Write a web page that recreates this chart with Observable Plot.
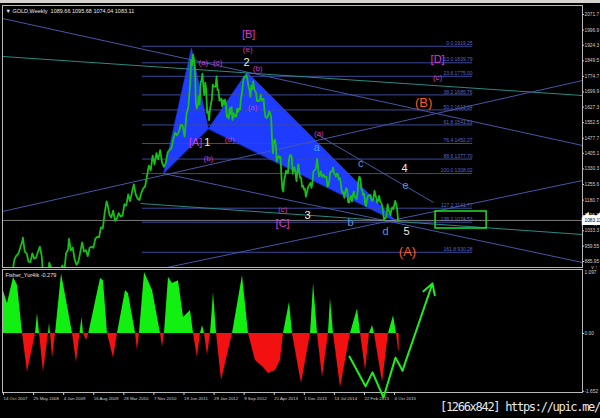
<!DOCTYPE html>
<html><head><meta charset="utf-8">
<script src="https://cdn.jsdelivr.net/npm/d3@7"></script>
<script src="https://cdn.jsdelivr.net/npm/@observablehq/plot@0.6"></script>
<style>
html,body{margin:0;padding:0;background:#000;width:600px;height:418px;overflow:hidden;font-family:"Liberation Sans",Arial,sans-serif;}
#topbar{position:absolute;left:0;top:0;width:600px;height:3px;background:#d6d3ce;}
#main{position:absolute;left:0;top:3px;}
#sub{position:absolute;left:0;top:262px;}
#wm{position:absolute;left:440px;top:400px;color:#e8e8e8;font:12px "DejaVu Sans Mono",monospace;letter-spacing:-1.3px;white-space:nowrap;}
</style></head><body>
<div id="topbar"></div><div id="main"></div><div id="sub"></div><div id="wm">[1266x842] https://upic.me/</div>
<script>
// ---------- DATA ----------
const chartTitle = "\u25BC GOLD,Weekly  1089.66 1095.68 1074.04 1083.11";
const fisherTitle = "Fisher_Yur4ik -0.279";
const bidPrice = 1083.11;

const priceDate = ["2007-10-19","2007-11-02","2007-11-16","2007-11-30","2007-12-14","2007-12-28","2008-01-11","2008-01-25","2008-02-08","2008-02-22","2008-03-07","2008-03-14","2008-03-28","2008-04-11","2008-04-25","2008-05-09","2008-05-23","2008-06-06","2008-06-20","2008-07-04","2008-07-18","2008-08-01","2008-08-15","2008-08-29","2008-09-12","2008-09-26","2008-10-10","2008-10-24","2008-11-07","2008-11-21","2008-12-05","2008-12-19","2009-01-02","2009-01-16","2009-01-30","2009-02-13","2009-02-20","2009-03-06","2009-03-20","2009-04-03","2009-04-17","2009-05-01","2009-05-15","2009-05-29","2009-06-12","2009-06-26","2009-07-10","2009-07-24","2009-08-07","2009-08-21","2009-09-04","2009-09-18","2009-10-02","2009-10-16","2009-10-30","2009-11-13","2009-11-27","2009-12-04","2009-12-18","2010-01-01","2010-01-15","2010-01-29","2010-02-12","2010-02-26","2010-03-12","2010-03-26","2010-04-09","2010-04-23","2010-05-07","2010-05-21","2010-06-04","2010-06-18","2010-07-02","2010-07-16","2010-07-30","2010-08-13","2010-08-27","2010-09-10","2010-09-24","2010-10-08","2010-10-22","2010-11-05","2010-11-19","2010-12-03","2010-12-17","2010-12-31","2011-01-14","2011-01-28","2011-02-11","2011-02-25","2011-03-11","2011-03-25","2011-04-08","2011-04-22","2011-05-06","2011-05-20","2011-06-03","2011-06-17","2011-07-01","2011-07-15","2011-07-29","2011-08-12","2011-08-19","2011-08-26",
"2011-09-02","2011-09-09","2011-09-16","2011-09-23","2011-09-30","2011-10-07","2011-10-14","2011-10-21","2011-10-28","2011-11-04","2011-11-11","2011-11-18","2011-11-25","2011-12-02","2011-12-09","2011-12-16","2011-12-23","2011-12-30",
"2012-01-06","2012-01-13","2012-01-20","2012-01-27","2012-02-03","2012-02-10","2012-02-17","2012-02-24","2012-03-02","2012-03-09","2012-03-16","2012-03-23","2012-03-30","2012-04-06","2012-04-13","2012-04-20","2012-04-27","2012-05-04","2012-05-11","2012-05-18","2012-05-25","2012-06-01","2012-06-08","2012-06-15","2012-06-22","2012-06-29","2012-07-06","2012-07-13","2012-07-20","2012-07-27","2012-08-03","2012-08-10","2012-08-17","2012-08-24","2012-08-31","2012-09-07","2012-09-14","2012-09-21","2012-09-28","2012-10-05","2012-10-12","2012-10-19","2012-10-26","2012-11-02","2012-11-09","2012-11-16","2012-11-23","2012-11-30","2012-12-07","2012-12-14","2012-12-21","2012-12-28",
"2013-01-04","2013-01-11","2013-01-18","2013-01-25","2013-02-01","2013-02-08","2013-02-15","2013-02-22","2013-03-01","2013-03-08","2013-03-15","2013-03-22","2013-03-29","2013-04-05","2013-04-12","2013-04-19","2013-04-26","2013-05-03","2013-05-10","2013-05-17","2013-05-24","2013-05-31","2013-06-07","2013-06-14","2013-06-21","2013-06-28","2013-07-05","2013-07-12","2013-07-19","2013-07-26","2013-08-02","2013-08-09","2013-08-16","2013-08-23","2013-08-30","2013-09-06","2013-09-13","2013-09-20","2013-09-27","2013-10-04","2013-10-11","2013-10-18","2013-10-25","2013-11-01","2013-11-08","2013-11-15","2013-11-22","2013-11-29","2013-12-06","2013-12-13","2013-12-20","2013-12-27",
"2014-01-03","2014-01-10","2014-01-17","2014-01-24","2014-01-31","2014-02-07","2014-02-14","2014-02-21","2014-02-28","2014-03-07","2014-03-14","2014-03-21","2014-03-28","2014-04-04","2014-04-11","2014-04-18","2014-04-25","2014-05-02","2014-05-09","2014-05-16","2014-05-23","2014-05-30","2014-06-06","2014-06-13","2014-06-20","2014-06-27","2014-07-04","2014-07-11","2014-07-18","2014-07-25","2014-08-01","2014-08-08","2014-08-15","2014-08-22","2014-08-29","2014-09-05","2014-09-12","2014-09-19","2014-09-26","2014-10-03","2014-10-10","2014-10-17","2014-10-24","2014-10-31","2014-11-07","2014-11-14","2014-11-21","2014-11-28","2014-12-05","2014-12-12","2014-12-19","2014-12-26",
"2015-01-02","2015-01-09","2015-01-16","2015-01-23","2015-01-30","2015-02-06","2015-02-13","2015-02-20","2015-02-27","2015-03-06","2015-03-13","2015-03-20","2015-03-27","2015-04-03","2015-04-10","2015-04-17","2015-04-24","2015-05-01","2015-05-08","2015-05-15","2015-05-22","2015-05-29","2015-06-05","2015-06-12","2015-06-19","2015-06-26","2015-07-03","2015-07-10","2015-07-17","2015-07-24","2015-07-31","2015-08-07","2015-08-14","2015-08-21","2015-08-28","2015-09-04","2015-09-11","2015-09-18","2015-09-25","2015-10-02","2015-10-09","2015-10-16","2015-10-23","2015-10-30","2015-11-06","2015-11-13"];
const priceClose = [765,807,785,783,800,838,896,914,922,950,978,1000,932,925,885,883,925,900,904,933,957,912,785,833,763,880,858,725,735,795,752,840,867,840,927,942,995,940,953,897,870,885,930,978,934,940,912,952,957,952,995,1004,1003,1050,1045,1119,1175,1162,1111,1097,1130,1081,1093,1118,1102,1106,1161,1155,1208,1176,1218,1256,1208,1188,1181,1216,1237,1246,1297,1346,1325,1394,1352,1406,1376,1421,1361,1340,1360,1410,1421,1429,1474,1504,1491,1509,1542,1538,1486,1593,1628,1744,1852,1828,
1880,1855,1810,1650,1620,1635,1680,1640,1745,1755,1788,1725,1685,1745,1710,1600,1605,1565,
1615,1640,1665,1735,1725,1725,1725,1775,1710,1710,1658,1662,1668,1630,1660,1640,1663,1643,1580,1590,1572,1622,1595,1627,1566,1598,1580,1590,1582,1620,1605,1620,1616,1672,1692,1737,1770,1773,1772,1780,1757,1725,1711,1676,1730,1714,1751,1712,1703,1697,1657,1657,
1656,1662,1687,1658,1667,1667,1610,1580,1576,1577,1592,1607,1597,1580,1476,1405,1463,1471,1448,1365,1386,1392,1383,1388,1296,1234,1222,1278,1296,1322,1310,1312,1372,1396,1396,1387,1308,1333,1338,1310,1272,1315,1352,1315,1287,1287,1244,1250,1231,1235,1197,1213,
1237,1248,1254,1264,1240,1262,1318,1324,1326,1338,1379,1336,1294,1303,1318,1293,1300,1302,1290,1293,1292,1245,1252,1274,1316,1316,1320,1337,1310,1303,1294,1309,1305,1280,1287,1268,1230,1216,1218,1192,1222,1238,1231,1171,1169,1190,1201,1175,1205,1222,1195,1195,
1186,1216,1277,1293,1283,1234,1227,1203,1212,1164,1153,1184,1199,1201,1206,1203,1178,1178,1188,1225,1205,1190,1168,1179,1201,1173,1168,1157,1132,1085,1095,1094,1113,1160,1134,1121,1108,1138,1145,1137,1156,1177,1163,1142,1088,1083];

// Fibonacci retracement
const fibLevel = [0.0,13.0,23.6,38.2,50.0,61.8,76.4,88.6,100.0,127.2,138.2,161.8];
const fibPrice = [1919.25,1839.79,1775.00,1685.76,1613.64,1541.51,1452.27,1377.70,1308.02,1141.77,1074.53,930.28];
const fibFrom = "2010-08-21", fibTo = "2017-05-15";

// Harmonic triangles
const triName  = ["XAB","XAB","XAB","BCD","BCD","BCD"];
const triDate  = ["2011-01-25","2011-08-21","2011-12-25","2011-12-25","2012-10-07","2015-11-01"];
const triPrice = [1308,1912,1523,1523,1796,1074.5];

// Trend lines
const trendKind  = ["blue","teal","blue","blue","blue","teal","blue"];
const trendDate1 = ["2007-10-14","2007-10-14","2007-10-14","2007-10-14","2014-03-12","2010-08-07","2011-01-25"];
const trendP1    = [2052.5,1870.1,1126.0,692.0,1495.6,1164.4,1308.4];
const trendDate2 = ["2019-08-11","2019-08-11","2019-08-11","2019-08-11","2016-07-28","2019-08-11","2019-08-11"];
const trendP2    = [1442.8,1682.8,1754.8,1274.8,1169.2,1015.5,881.1];

// Target box
const boxDate = ["2016-08-12","2017-08-27"];
const boxPrice = [1044.3,1126.0];

// Wave labels
const labelText  = ["[B]","(e)","(a)","(c)","2","(b)","(a)","[A]","1","(b)","(d)","(a)","a","c","4","e","(c)","3","[C]","b","d","5","(A)","(B)","[D]","(c)"];
const labelDate  = ["2012-10-20","2012-10-13","2011-11-18","2012-03-04","2012-10-05","2012-12-26","2012-11-18","2011-09-20","2011-12-18","2011-12-25","2012-06-01","2014-03-27","2014-03-12","2015-02-01","2015-12-25","2016-01-01","2013-06-30","2014-01-02","2013-06-30","2014-11-18","2015-08-06","2016-01-09","2016-01-16","2016-05-15","2016-08-27","2016-08-27"];
const labelPrice = [1975.7,1903.7,1841.3,1841.3,1841.3,1812.5,1625.2,1457.2,1457.2,1380.4,1471.6,1500.4,1433.2,1356.4,1332.4,1250.8,1135.6,1106.7,1068.3,1073.1,1029.9,1029.9,933.9,1649.2,1855.7,1769.3];
const labelKind  = ["major","sub","sub","sub","num","sub","sub","major","num","sub","sub","sub","minor","minor","num","minor","sub","num","major","minor","minor","num","cycle","cycle","major","sub"];

// Price axis
const priceTicks = [2071.7,1996.9,1924.3,1849.5,1774.7,1699.9,1627.3,1552.5,1477.7,1405.1,1330.3,1255.6,1180.7,1106.1,1033.3,959.55,885.95];
const priceTickLabels = ["2071.7","1996.9","1924.3","1849.5","1774.7","1699.9","1627.3","1552.5","1477.7","1405.1","1330.3","1255.6","1180.7","1106.1","1033.3","959.55","885.95"];

// Time axis
const timeTicks = ["2007-10-14","2008-05-25","2009-01-04","2009-08-16","2010-03-28","2010-11-07","2011-06-19","2012-01-29","2012-09-09","2013-04-21","2013-12-01","2014-07-13","2015-02-22","2015-10-04"];
const timeTickLabels = ["14 Oct 2007","25 May 2008","4 Jan 2009","16 Aug 2009","28 Mar 2010","7 Nov 2010","19 Jun 2011","29 Jan 2012","9 Sep 2012","21 Apr 2013","1 Dec 2013","13 Jul 2014","22 Feb 2015","4 Oct 2015"];

// Fisher indicator (bar index in weeks from 14 Oct 2007, value)
const fisherStart = "2007-10-14";
const fisherWeek = [0,5.3,11.7,16,21.3,26.6,35.1,37.2,39.4,43.6,48.9,50,51.1,53.2,56.4,62.8,74.5,78.7,82.4,84.6,86.2,89.4,91.8,104.3,107.4,111.7,118.1,122.3,130.9,134,141.5,143.6,145.7,151.1,159.6,168.1,170.2,172.3,176.6,180.9,187.2,192.6,200,203.2,207.4,210.6,212.8,214.9,218.1,221.3,224.5,227.7,233,244.7,255.3,261.7,269.1,277.7,283,290.4,295.7,298.9,305.3,308.5,314.9,318.1,327.7,330.9,335.1,340.4,346.8,348.9,352.1,359.6,370.2,377.7,380.9,386.2,390.4,393.6,395.7,404.3,410.6,416,419.1,421.3,422];
const fisherVal  = [1.31,0.86,1.6,1.37,0,-1.11,0,0.57,0,-1.11,0,0.29,0,-0.71,0,1.71,0,-0.83,0,0.46,0,-0.2,0,1.57,1.51,0,-0.71,0,1.23,1.14,0,-0.49,0,1.74,1.23,0,-0.4,0,1.6,1.43,1.51,0.46,0.66,0,-0.69,0,0.23,0,-0.63,0,1.17,0,-1.34,0,1.66,0,-0.77,-0.97,-1.14,-1.06,-0.77,0,0.89,0,-0.97,-1.43,0,1.43,0,-1.26,0,1.0,0,-1.54,0,0.71,0,-1.06,0,0.23,0,-1.4,0,0.51,0,-0.49,-0.49];
const fisherTicks = [0,-1.652];
const fisherTickLabels = ["0.00","-1.652"];
const fisherMaxLabel = "1.097";

// Hand-drawn projection zigzag on the indicator
const zigWeek = [369.1,386.2,393.6,405.3,418.1,425.5,457.4];
const zigVal  = [-0.66,-1.51,-1.11,-1.83,-0.69,-1.06,1.43];

// ---------- BUILD ----------
const D = s => new Date(s + "T00:00:00Z");
const t0 = D(fisherStart);
const W = w => new Date(t0.getTime() + w * 7 * 864e5);
const xDomain = [D("2007-10-14"), D("2019-08-11")];

const prices = priceDate.map((d,i)=>({date:D(d), v:priceClose[i]}));
const fibs = fibLevel.map((l,i)=>({p:fibPrice[i], t:l.toFixed(1)+" "+fibPrice[i].toFixed(2)}));
const tris = triName.map((n,i)=>({tri:n, date:D(triDate[i]), p:triPrice[i]}));
const trendColor = {blue:"#4656a6", teal:"#2a8a82"};
const trends = trendKind.map((k,i)=>({c:trendColor[k], x1:D(trendDate1[i]), y1:trendP1[i], x2:D(trendDate2[i]), y2:trendP2[i]}));
const kindColor = {major:"#d83ad8", sub:"#cc36cc", num:"#f2eed6", minor:"#4a9ae6", cycle:"#ff5a16"};
const kindSize = {major:11, sub:8, num:11, minor:11, cycle:13};
const labels = labelText.map((t,i)=>({t, date:D(labelDate[i]), p:labelPrice[i], c:kindColor[labelKind[i]], s:kindSize[labelKind[i]]}));
const pLab = new Map(priceTicks.map((v,i)=>[v, priceTickLabels[i]]));
const tTicks = timeTicks.map(D);
const tLab = new Map(tTicks.map((d,i)=>[+d, timeTickLabels[i]]));
const fisher = fisherWeek.map((w,i)=>({date:W(w), v:fisherVal[i]}));
const zig = zigWeek.map((w,i)=>({date:W(w), v:zigVal[i]}));
const fLab = new Map(fisherTicks.map((v,i)=>[v, fisherTickLabels[i]]));

const baseStyle = {background:"transparent", color:"#cfcfcf", fontFamily:"Liberation Sans, Arial, sans-serif", fontSize:"5px", overflow:"visible"};

const main = Plot.plot({
  width:600, height:265, marginLeft:2, marginRight:18, marginTop:2, marginBottom:1,
  style: baseStyle,
  x:{type:"utc", domain:xDomain, axis:null},
  y:{domain:[885.95,2071.7], range:[258,11]},
  color:{type:"identity"},
  marks:[
    Plot.line(tris, {x:"date", y:"p", z:"tri", fill:"#1e3cff", stroke:"#1e3cff", strokeWidth:0.5, curve:"linear-closed", clip:true}),
    Plot.ruleY(fibs, {y:"p", x1:()=>D(fibFrom), x2:()=>D(fibTo), stroke:"#3b4a9e", strokeWidth:1, clip:true}),
    Plot.text(fibs, {y:"p", x:()=>D(fibTo), text:"t", textAnchor:"end", dy:-3, fill:"#5566cc", fontSize:5, clip:true}),
    Plot.link(trends, {x1:"x1", y1:"y1", x2:"x2", y2:"y2", stroke:"c", strokeWidth:1, clip:true}),
    Plot.ruleY([bidPrice], {stroke:"#9a9a9a", strokeWidth:0.8}),
    Plot.line(prices, {x:"date", y:"v", stroke:"#16c016", strokeWidth:1.8, clip:true}),
    Plot.rect([0], {x1:()=>D(boxDate[0]), x2:()=>D(boxDate[1]), y1:()=>boxPrice[0], y2:()=>boxPrice[1], fill:"none", stroke:"#22e022", strokeWidth:1.5}),
    Plot.text(labels, {x:"date", y:"p", text:"t", fill:"c", fontSize:"s", clip:true}),
    Plot.text([chartTitle], {frameAnchor:"top-left", dx:3, dy:4, textAnchor:"start", fill:"#e8e8e8", fontSize:5.5}),
    Plot.frame({stroke:"#b8b8b8"}),
    Plot.axisY({anchor:"right", ticks:priceTicks, tickFormat:d=>pLab.get(d), tickSize:1, tickPadding:1, fontSize:4.8}),
    Plot.text([bidPrice], {y:d=>d, text:d=>d.toFixed(2), frameAnchor:"right", dx:2, textAnchor:"start", fill:"#000", stroke:"#fff", strokeWidth:6, strokeLinejoin:"miter", paintOrder:"stroke", fontSize:4.8})
  ]
});
document.getElementById("main").appendChild(main);

const sub = Plot.plot({
  width:600, height:156, marginLeft:2, marginRight:18, marginTop:7, marginBottom:26,
  style: baseStyle,
  x:{type:"utc", domain:xDomain},
  y:{domain:[-1.686,1.829]},
  marks:[
    Plot.areaY(fisher, {x:"date", y:d=>Math.max(0,d.v), fill:"#12f012", clip:true}),
    Plot.areaY(fisher, {x:"date", y:d=>Math.min(0,d.v), fill:"#f21010", clip:true}),
    Plot.frame({stroke:"#b8b8b8"}),
    Plot.axisY({anchor:"right", ticks:fisherTicks, tickFormat:d=>fLab.get(d), tickSize:1, tickPadding:1, fontSize:4.8}),
    Plot.text([fisherMaxLabel], {frameAnchor:"top-right", dx:2, dy:1, textAnchor:"start", fill:"#cfcfcf", fontSize:4.8}),
    Plot.axisX({ticks:tTicks, tickFormat:d=>tLab.get(+d), tickSize:3, tickPadding:1, textAnchor:"start", dx:1, fontSize:4.4}),
    Plot.text([fisherTitle], {frameAnchor:"top-left", dx:3, dy:4, textAnchor:"start", fill:"#e8e8e8", fontSize:5.5}),
    Plot.line(zig.slice(0,6), {x:"date", y:"v", stroke:"#1cf01c", strokeWidth:2}),
    Plot.arrow([0], {x1:()=>zig[5].date, y1:()=>zig[5].v, x2:()=>zig[6].date, y2:()=>zig[6].v, stroke:"#1cf01c", strokeWidth:2, headLength:9})
  ]
});
document.getElementById("sub").appendChild(sub);
</script>
</body></html>
